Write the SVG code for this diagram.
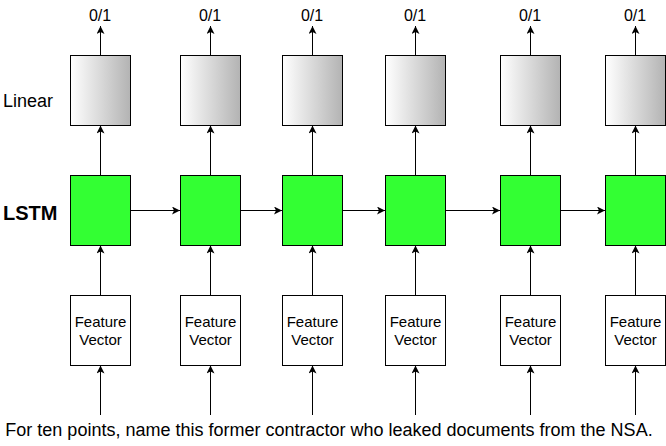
<svg xmlns="http://www.w3.org/2000/svg" width="666" height="446" viewBox="0 0 666 446">
<style>
text{font-family:"Liberation Sans",Arial,Helvetica,sans-serif;fill:#000}
.lin{fill:url(#g);stroke:#000;stroke-width:1}
.lstm{fill:#33FF33;stroke:#000;stroke-width:1}
.fv{fill:#fff;stroke:#000;stroke-width:1}
.c{stroke:#000;stroke-width:1;fill:none;marker-end:url(#a)}
.t{font-size:15px;text-anchor:middle}
.o{font-size:16px;text-anchor:middle}
</style>
<defs>
<linearGradient id="g" x1="0" y1="0" x2="1" y2="0">
<stop offset="0" stop-color="#ffffff"/>
<stop offset="1" stop-color="#b3b3b3"/>
</linearGradient>
<marker id="a" markerUnits="userSpaceOnUse" markerWidth="10" markerHeight="10" refX="8" refY="4" orient="auto">
<path d="M0,0 L8,4 L0,8 L2,4 Z" fill="#000"/>
</marker>
</defs>
<g id="labels">
<text x="3" y="107" font-size="18px">Linear</text>
<text x="3" y="220" font-size="20px" font-weight="bold">LSTM</text>
<text x="329" y="436" font-size="18px" text-anchor="middle">For ten points, name this former contractor who leaked documents from the NSA.</text>
</g>
<g id="outputs">
<text class="o" x="100" y="21">0/1</text>
<text class="o" x="210" y="21">0/1</text>
<text class="o" x="312" y="21">0/1</text>
<text class="o" x="415" y="21">0/1</text>
<text class="o" x="530" y="21">0/1</text>
<text class="o" x="635" y="21">0/1</text>
</g>
<g id="connectors">
<path class="c" d="M100.5,55 V26"/><path class="c" d="M210.5,55 V26"/><path class="c" d="M312.5,55 V26"/><path class="c" d="M415.5,55 V26"/><path class="c" d="M530.5,55 V26"/><path class="c" d="M635.5,55 V26"/>
<path class="c" d="M100.5,175 V125.5"/><path class="c" d="M210.5,175 V125.5"/><path class="c" d="M312.5,175 V125.5"/><path class="c" d="M415.5,175 V125.5"/><path class="c" d="M530.5,175 V125.5"/><path class="c" d="M635.5,175 V125.5"/>
<path class="c" d="M100.5,295 V245.5"/><path class="c" d="M210.5,295 V245.5"/><path class="c" d="M312.5,295 V245.5"/><path class="c" d="M415.5,295 V245.5"/><path class="c" d="M530.5,295 V245.5"/><path class="c" d="M635.5,295 V245.5"/>
<path class="c" d="M100.5,415 V365.5"/><path class="c" d="M210.5,415 V365.5"/><path class="c" d="M312.5,415 V365.5"/><path class="c" d="M415.5,415 V365.5"/><path class="c" d="M530.5,415 V365.5"/><path class="c" d="M635.5,415 V365.5"/>
<path class="c" d="M130.5,210.5 H180"/><path class="c" d="M240.5,210.5 H282"/><path class="c" d="M342.5,210.5 H385"/><path class="c" d="M445.5,210.5 H500"/><path class="c" d="M560.5,210.5 H605"/>
</g>
<g id="linear1"><rect class="lin" x="70.5" y="55.5" width="60" height="70"/></g>
<g id="linear2"><rect class="lin" x="180.5" y="55.5" width="60" height="70"/></g>
<g id="linear3"><rect class="lin" x="282.5" y="55.5" width="60" height="70"/></g>
<g id="linear4"><rect class="lin" x="385.5" y="55.5" width="60" height="70"/></g>
<g id="linear5"><rect class="lin" x="500.5" y="55.5" width="60" height="70"/></g>
<g id="linear6"><rect class="lin" x="605.5" y="55.5" width="60" height="70"/></g>
<g id="lstm1"><rect class="lstm" x="70.5" y="175.5" width="60" height="70"/></g>
<g id="lstm2"><rect class="lstm" x="180.5" y="175.5" width="60" height="70"/></g>
<g id="lstm3"><rect class="lstm" x="282.5" y="175.5" width="60" height="70"/></g>
<g id="lstm4"><rect class="lstm" x="385.5" y="175.5" width="60" height="70"/></g>
<g id="lstm5"><rect class="lstm" x="500.5" y="175.5" width="60" height="70"/></g>
<g id="lstm6"><rect class="lstm" x="605.5" y="175.5" width="60" height="70"/></g>
<g id="fv1"><rect class="fv" x="70.5" y="295.5" width="60" height="70"/><text class="t" x="100.5" y="327">Feature</text><text class="t" x="100.5" y="345">Vector</text></g>
<g id="fv2"><rect class="fv" x="180.5" y="295.5" width="60" height="70"/><text class="t" x="210.5" y="327">Feature</text><text class="t" x="210.5" y="345">Vector</text></g>
<g id="fv3"><rect class="fv" x="282.5" y="295.5" width="60" height="70"/><text class="t" x="312.5" y="327">Feature</text><text class="t" x="312.5" y="345">Vector</text></g>
<g id="fv4"><rect class="fv" x="385.5" y="295.5" width="60" height="70"/><text class="t" x="415.5" y="327">Feature</text><text class="t" x="415.5" y="345">Vector</text></g>
<g id="fv5"><rect class="fv" x="500.5" y="295.5" width="60" height="70"/><text class="t" x="530.5" y="327">Feature</text><text class="t" x="530.5" y="345">Vector</text></g>
<g id="fv6"><rect class="fv" x="605.5" y="295.5" width="60" height="70"/><text class="t" x="635.5" y="327">Feature</text><text class="t" x="635.5" y="345">Vector</text></g>
</svg>
